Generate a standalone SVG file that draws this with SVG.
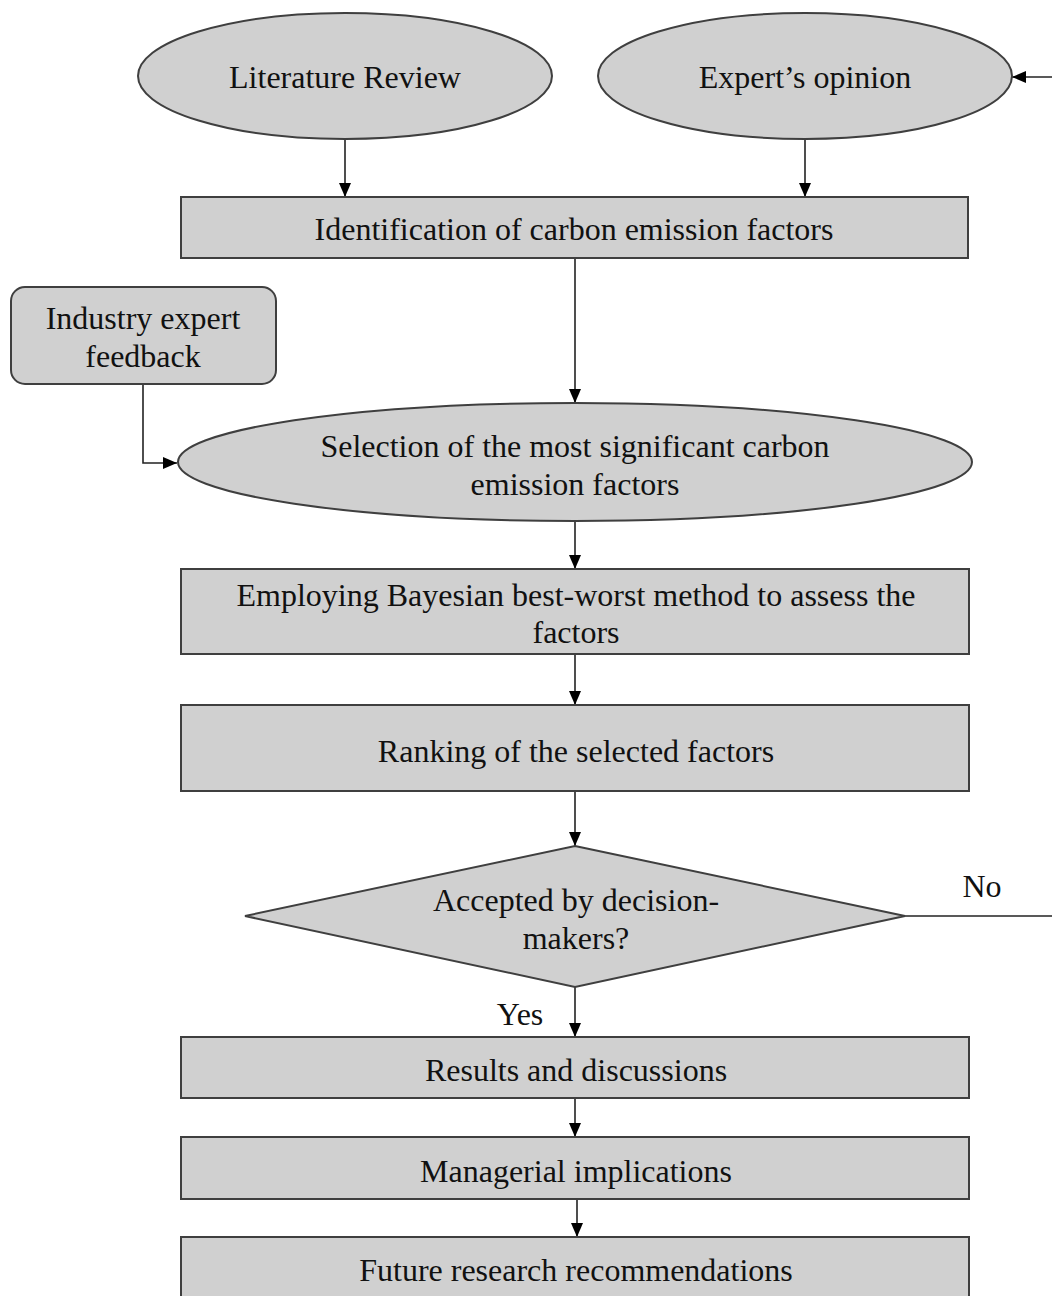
<svg xmlns="http://www.w3.org/2000/svg" width="1052" height="1296" viewBox="0 0 1052 1296">
<defs>
<style>
.n{fill:#d0d0d0;stroke:#3f3f3f;stroke-width:2}
.t{font-family:"Liberation Serif","Times New Roman",serif;font-size:32px;fill:#111;text-anchor:middle}
.c{fill:none;stroke:#222;stroke-width:1.6}
</style>
<marker id="ah" viewBox="0 0 14 12" refX="14" refY="6" markerWidth="14" markerHeight="12" markerUnits="userSpaceOnUse" orient="auto">
<path d="M0,0L14,6L0,12Z" fill="#000"/>
</marker>
</defs>
<rect width="1052" height="1296" fill="#fff"/>
<g id="connectors">
<path class="c" d="M1052,77H1012" marker-end="url(#ah)"/>
<path class="c" d="M345,140V197" marker-end="url(#ah)"/>
<path class="c" d="M805,140V197" marker-end="url(#ah)"/>
<path class="c" d="M575,258V403" marker-end="url(#ah)"/>
<path class="c" d="M143,384V463H177" marker-end="url(#ah)"/>
<path class="c" d="M575,521V569" marker-end="url(#ah)"/>
<path class="c" d="M575,654V705" marker-end="url(#ah)"/>
<path class="c" d="M575,791V846" marker-end="url(#ah)"/>
<path class="c" d="M905,916H1052"/>
<path class="c" d="M575,987V1037" marker-end="url(#ah)"/>
<path class="c" d="M575,1098V1137" marker-end="url(#ah)"/>
<path class="c" d="M577,1199V1237" marker-end="url(#ah)"/>
<text class="t" x="982" y="897">No</text>
<text class="t" x="520" y="1025">Yes</text>
</g>
<g id="literature">
<ellipse class="n" cx="345" cy="76" rx="207" ry="63"/>
<text class="t" x="345" y="88">Literature Review</text>
</g>
<g id="expert">
<ellipse class="n" cx="805" cy="76" rx="207" ry="63"/>
<text class="t" x="805" y="88">Expert’s opinion</text>
</g>
<g id="identification">
<rect class="n" x="181" y="197" width="787" height="61"/>
<text class="t" x="574" y="240">Identification  of carbon emission factors</text>
</g>
<g id="industry">
<rect class="n" x="11" y="287" width="265" height="97" rx="14"/>
<text class="t" x="143" y="329">Industry expert</text>
<text class="t" x="143" y="367">feedback</text>
</g>
<g id="selection">
<ellipse class="n" cx="575" cy="462" rx="397" ry="59"/>
<text class="t" x="575" y="457">Selection of the most significant  carbon</text>
<text class="t" x="575" y="495">emission factors</text>
</g>
<g id="bayesian">
<rect class="n" x="181" y="569" width="788" height="85"/>
<text class="t" x="576" y="606">Employing Bayesian best-worst method to assess the</text>
<text class="t" x="576" y="643">factors</text>
</g>
<g id="ranking">
<rect class="n" x="181" y="705" width="788" height="86"/>
<text class="t" x="576" y="762">Ranking of the selected factors</text>
</g>
<g id="decision">
<path class="n" d="M575,846L905,916L575,987L245,916Z"/>
<text class="t" x="576" y="911">Accepted by decision-</text>
<text class="t" x="576" y="949">makers?</text>
</g>
<g id="results">
<rect class="n" x="181" y="1037" width="788" height="61"/>
<text class="t" x="576" y="1081">Results and discussions</text>
</g>
<g id="managerial">
<rect class="n" x="181" y="1137" width="788" height="62"/>
<text class="t" x="576" y="1182">Managerial  implications</text>
</g>
<g id="future">
<rect class="n" x="181" y="1237" width="788" height="70"/>
<text class="t" x="576" y="1281">Future research recommendations</text>
</g>
</svg>
